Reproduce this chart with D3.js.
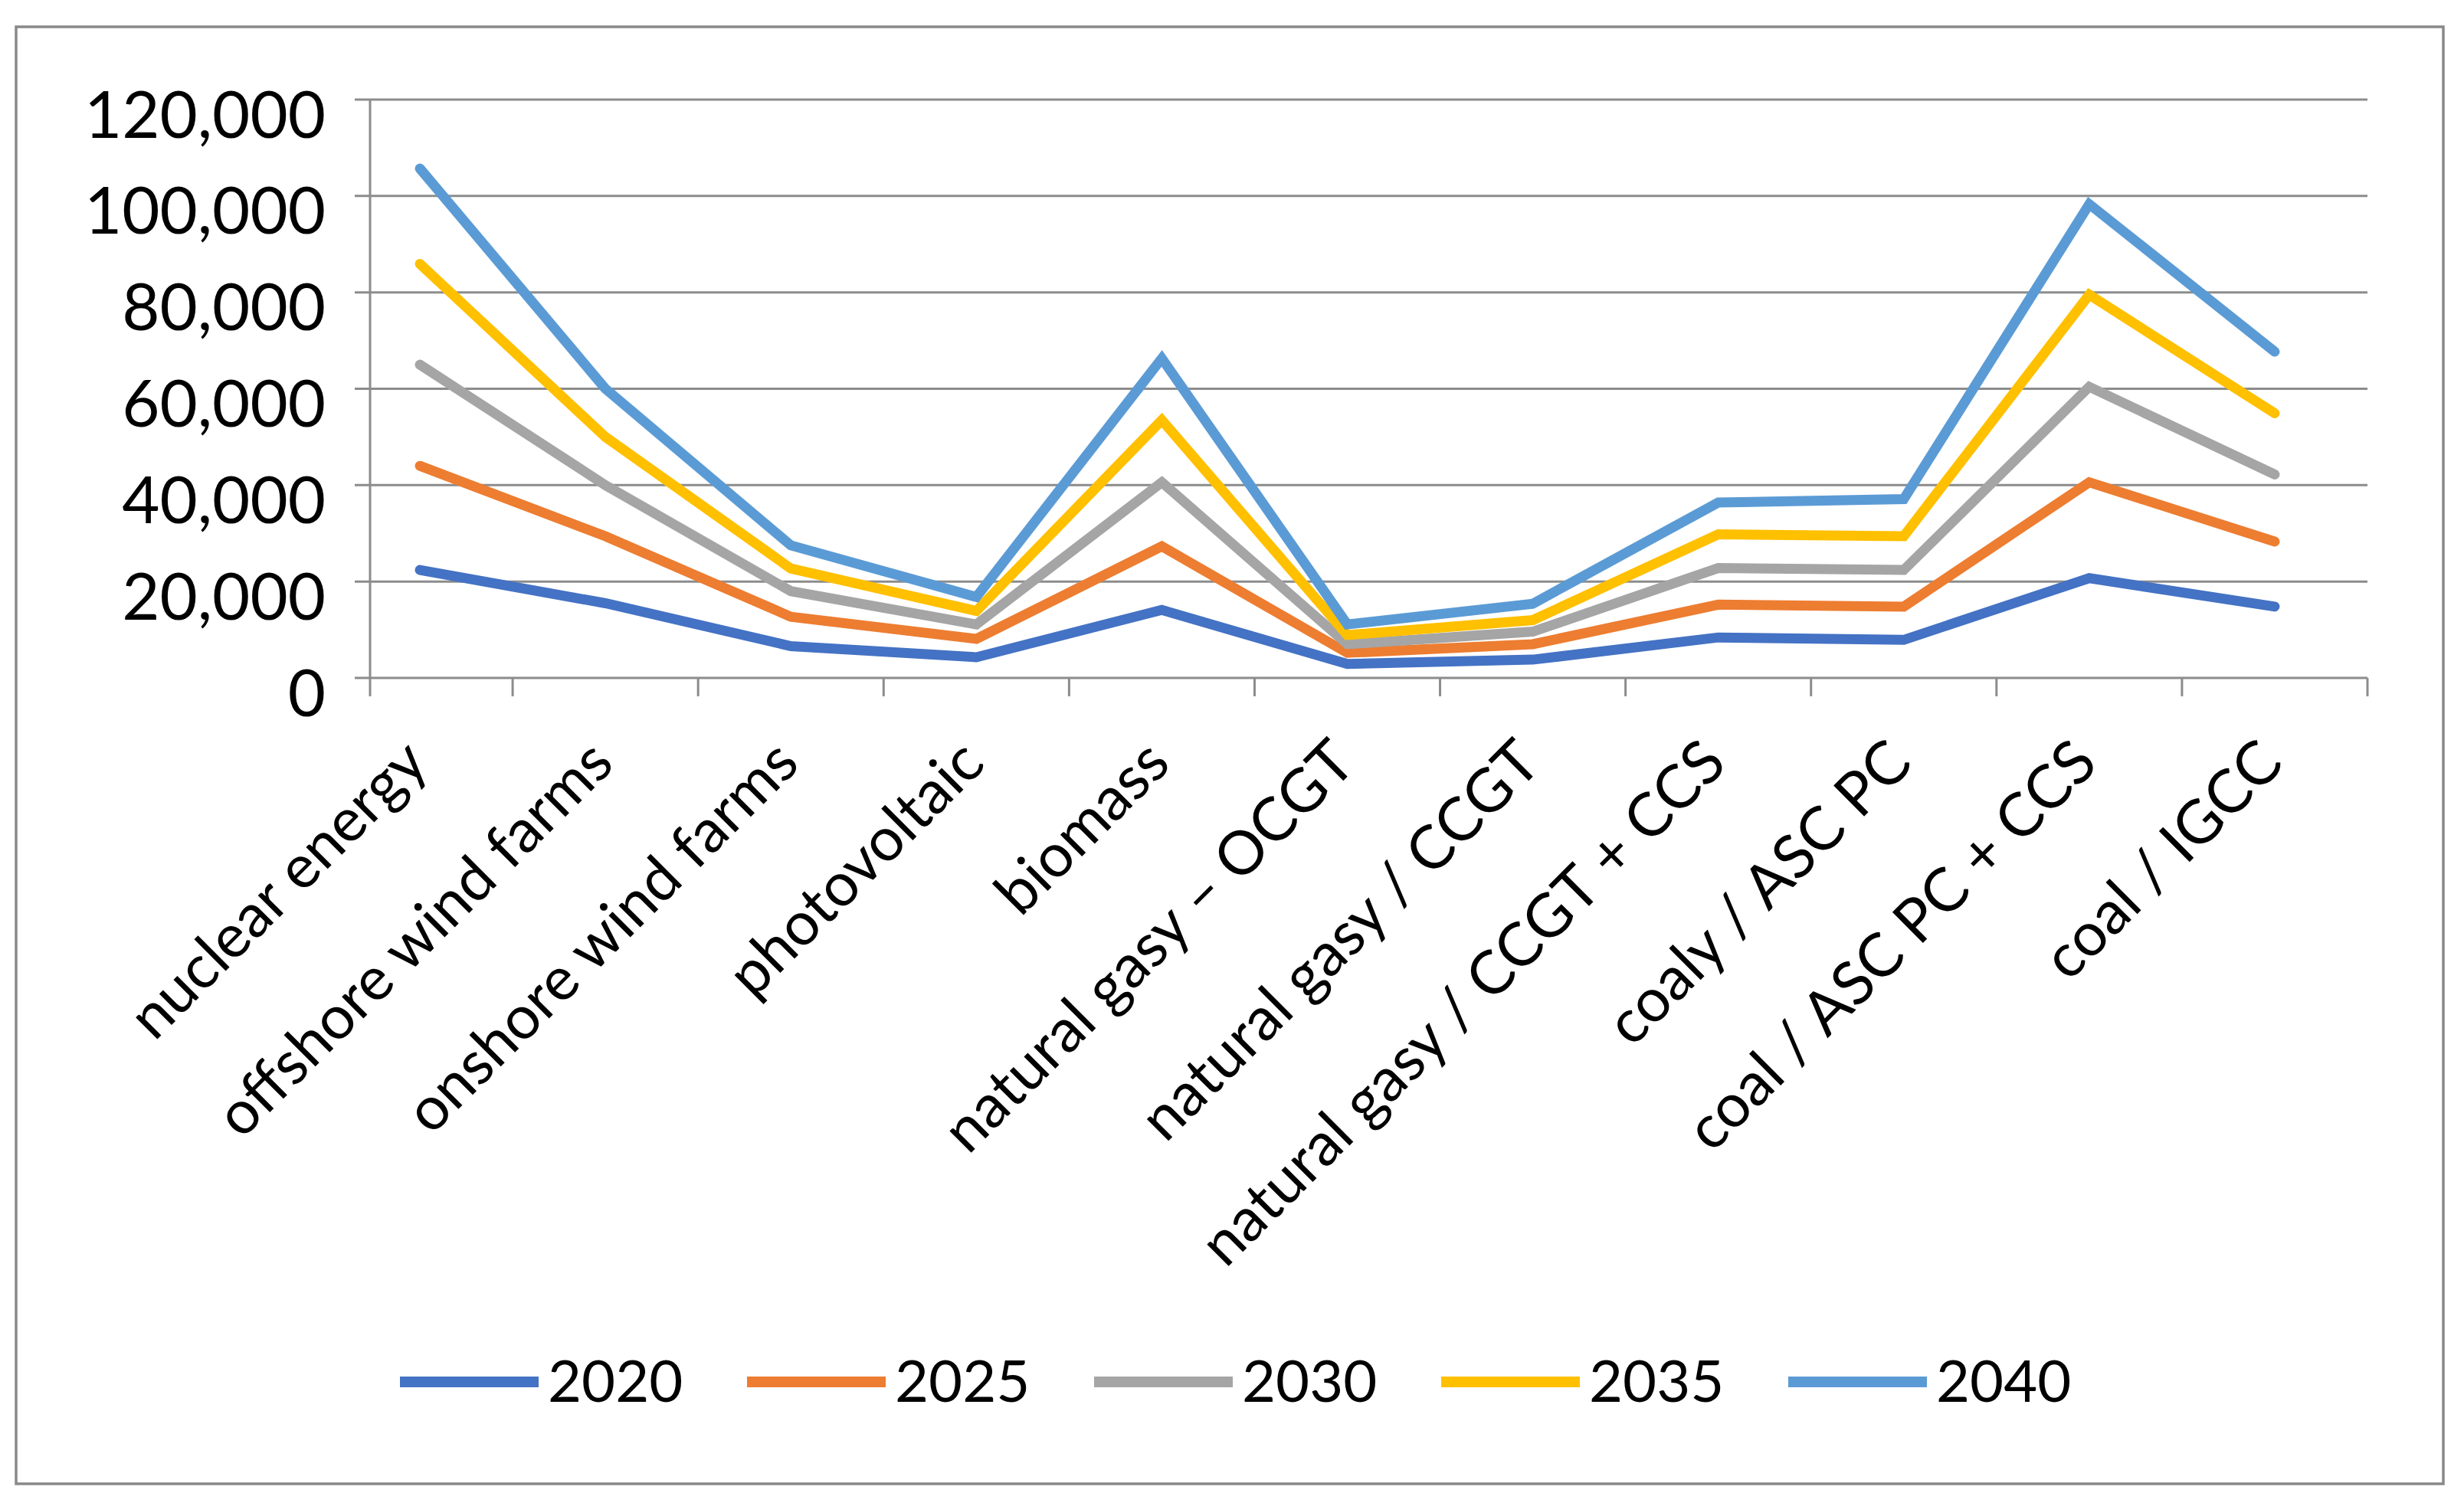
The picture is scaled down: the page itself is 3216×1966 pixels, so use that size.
<!DOCTYPE html>
<html>
<head>
<meta charset="utf-8">
<script src="https://cdn.jsdelivr.net/npm/d3@7"></script>
<style>
  html, body { margin: 0; padding: 0; background: #ffffff; }
  svg { display: block; }
  text { font-family: Lato, "Open Sans", sans-serif; fill: #000; }
</style>
</head>
<body>
<script>
// ---------- data ----------
const categories = [
  "nuclear energy", "offshore wind farms", "onshore wind farms", "photovoltaic",
  "biomass", "natural gasy \u2013 OCGT", "natural gasy / CCGT", "natural gasy / CCGT + CCS",
  "coaly / ASC PC", "coal / ASC PC + CCS", "coal / IGCC"
];
const years = ["2020", "2025", "2030", "2035", "2040"];
const values2020 = [22400, 15500, 6600, 4300, 14100, 2900, 3800, 8400, 7900, 20700, 14800];
const values2025 = [44000, 29400, 12700, 8100, 27300, 5200, 7000, 15200, 14800, 40600, 28300];
const values2030 = [65000, 40000, 18000, 11100, 40600, 7000, 9600, 22800, 22400, 60400, 42200];
const values2035 = [85900, 50000, 22700, 13900, 53500, 8900, 12000, 29800, 29400, 79500, 54900];
const values2040 = [105700, 60000, 27500, 16800, 66300, 11100, 15400, 36400, 37100, 98300, 67700];
const yTicks = [0, 20000, 40000, 60000, 80000, 100000, 120000];
const seriesColors = ["#4472C4", "#ED7D31", "#A5A5A5", "#FFC000", "#5B9BD5"];

const series = [values2020, values2025, values2030, values2035, values2040]
  .map((vals, i) => ({ name: years[i], color: seriesColors[i], values: vals }));

// ---------- layout ----------
const W = 3216, H = 1966;
const gridColor = "#8c8c8c";

const svg = d3.select("body").append("svg")
  .attr("width", W).attr("height", H)
  .attr("viewBox", `0 0 ${W} ${H}`);

svg.append("rect").attr("width", W).attr("height", H).attr("fill", "#fff");

// outer chart border
svg.append("rect")
  .attr("x", 21).attr("y", 35).attr("width", 3168).attr("height", 1902)
  .attr("fill", "none").attr("stroke", "#898989").attr("stroke-width", 3.5);

const x = d3.scaleBand().domain(categories).range([427, 3090]).padding(0);
const y = d3.scaleLinear().domain([0, 120000]).range([885, 130]);
const cx = c => x(c) + x.bandwidth() / 2;

// y tick labels (via axis generator)
const yAxis = d3.axisLeft(y).tickValues(yTicks).tickFormat(d3.format(","))
  .tickSize(0).tickPadding(0);
const gY = svg.append("g").attr("transform", "translate(425,0)").call(yAxis);
gY.select(".domain").remove();
gY.selectAll("text")
  .attr("x", 0).attr("dy", null).attr("y", 49)
  .style("font-family", "Lato, 'Open Sans', sans-serif")
  .style("font-size", "85px").attr("fill", "#000").attr("text-anchor", "end");

// gridlines
svg.append("g").selectAll("line").data(yTicks).join("line")
  .attr("x1", 463).attr("x2", 3090)
  .attr("y1", d => y(d)).attr("y2", d => y(d))
  .attr("stroke", gridColor).attr("stroke-width", 3);

// vertical axis line
svg.append("line")
  .attr("x1", 483).attr("x2", 483).attr("y1", y(120000)).attr("y2", y(0) + 24)
  .attr("stroke", gridColor).attr("stroke-width", 3);

// category boundary tick marks
svg.append("g").selectAll("line").data(categories).join("line")
  .attr("x1", d => x(d) + x.bandwidth()).attr("x2", d => x(d) + x.bandwidth())
  .attr("y1", y(0)).attr("y2", y(0) + 24)
  .attr("stroke", gridColor).attr("stroke-width", 3);

// category labels
svg.append("g").selectAll("text").data(categories).join("text")
  .attr("transform", d => `translate(${cx(d) + 14},1000) rotate(-45)`)
  .attr("text-anchor", "end")
  .style("font-size", "79px")
  .text(d => d);

// series lines
const line = d3.line()
  .x((v, i) => cx(categories[i]))
  .y(v => y(v));

svg.append("g").selectAll("path").data(series).join("path")
  .attr("d", d => line(d.values))
  .attr("fill", "none")
  .attr("stroke", d => d.color)
  .attr("stroke-width", 13)
  .attr("stroke-linecap", "round")
  .attr("stroke-linejoin", "miter");

// legend
const lx = d3.scalePoint().domain(years).range([522, 522 + 453 * 4]);
const lg = svg.append("g").selectAll("g").data(series).join("g")
  .attr("transform", d => `translate(${lx(d.name)},1804)`);
lg.append("line").attr("x1", 0).attr("x2", 181).attr("y1", 0).attr("y2", 0)
  .attr("stroke", d => d.color).attr("stroke-width", 14);
lg.append("text").attr("x", 193).attr("y", 26)
  .style("font-size", "76px").text(d => d.name);
</script>
</body>
</html>
